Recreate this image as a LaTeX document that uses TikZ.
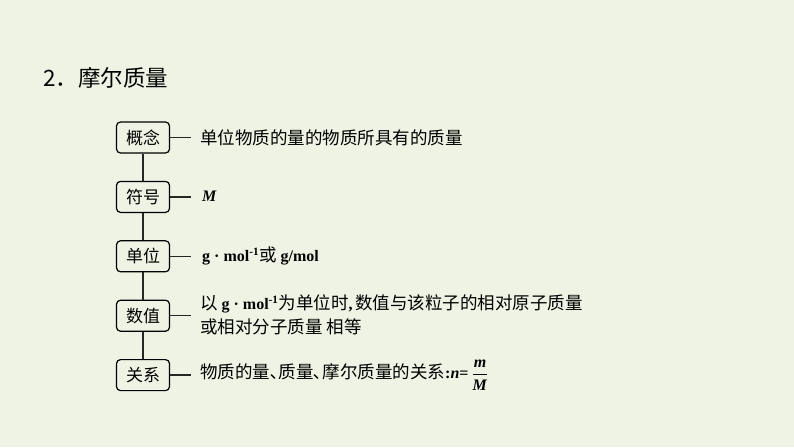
\documentclass[tikz,border=0pt]{standalone}
\usepackage{fontspec}
\setmainfont{Liberation Serif}
\newfontfamily\cjk{Noto Sans CJK SC}
\definecolor{bg}{RGB}{238,243,227}
\newcommand\lat[1]{{\normalfont\fontsize{16}{16}\selectfont\bfseries #1}}

\begin{document}
\begin{tikzpicture}[x=1pt,y=-1pt,
  box/.style={draw,line width=1.2pt,rounded corners=4pt,minimum width=53pt,minimum height=31pt,inner sep=0pt,font=\fontsize{17}{17}\cjk},
  txt/.style={anchor=west,inner sep=0pt,align=left,font=\fontsize{17.5}{24}\cjk},
  link/.style={line width=1.4pt,black!85}]
\fill[bg] (0,0) rectangle (794,447);
\node[anchor=west,inner sep=0pt,font=\fontsize{22.5}{22.5}\cjk] (title) at (43,78) {2．摩尔质量};
\foreach \t/\n [count=\i] in {概念/gainian,符号/fuhao,单位/danwei,数值/shuzhi,关系/guanxi}
  \node[box] (\n) at (143,137.5+59.4*\i-59.4) {\t};
\node[txt] (t1) at (200,137.5) {单位物质的量的物质所具有的质量};
\node[txt] (t2) at (202,196.5) {\lat{\textit{M}}};
\node[txt] (t3) at (202,256) {\lat{g · mol\textsuperscript{-1}}或 \lat{g/mol}};
\node[txt] (t4) at (200,315) {以 \lat{g · mol\textsuperscript{-1}}为单位时\lat{,\,}数值与该粒子的相对原子质量\\或相对分子质量 相等};
\node[txt] (t5) at (200,375) {物质的量､质量､摩尔质量的关系\lat{:\textit{n}=}\,$\displaystyle\frac{\mbox{\lat{\textit{m}}}}{\mbox{\lat{\textit{M}}}}$};
\foreach \n in {gainian,fuhao,danwei,shuzhi,guanxi}
  \draw[link] (\n.east) -- ++(21,0) coordinate (\n-end);
\draw[link] (gainian) -- (fuhao) -- (danwei) -- (shuzhi) -- (guanxi);
\end{tikzpicture}
\end{document}
